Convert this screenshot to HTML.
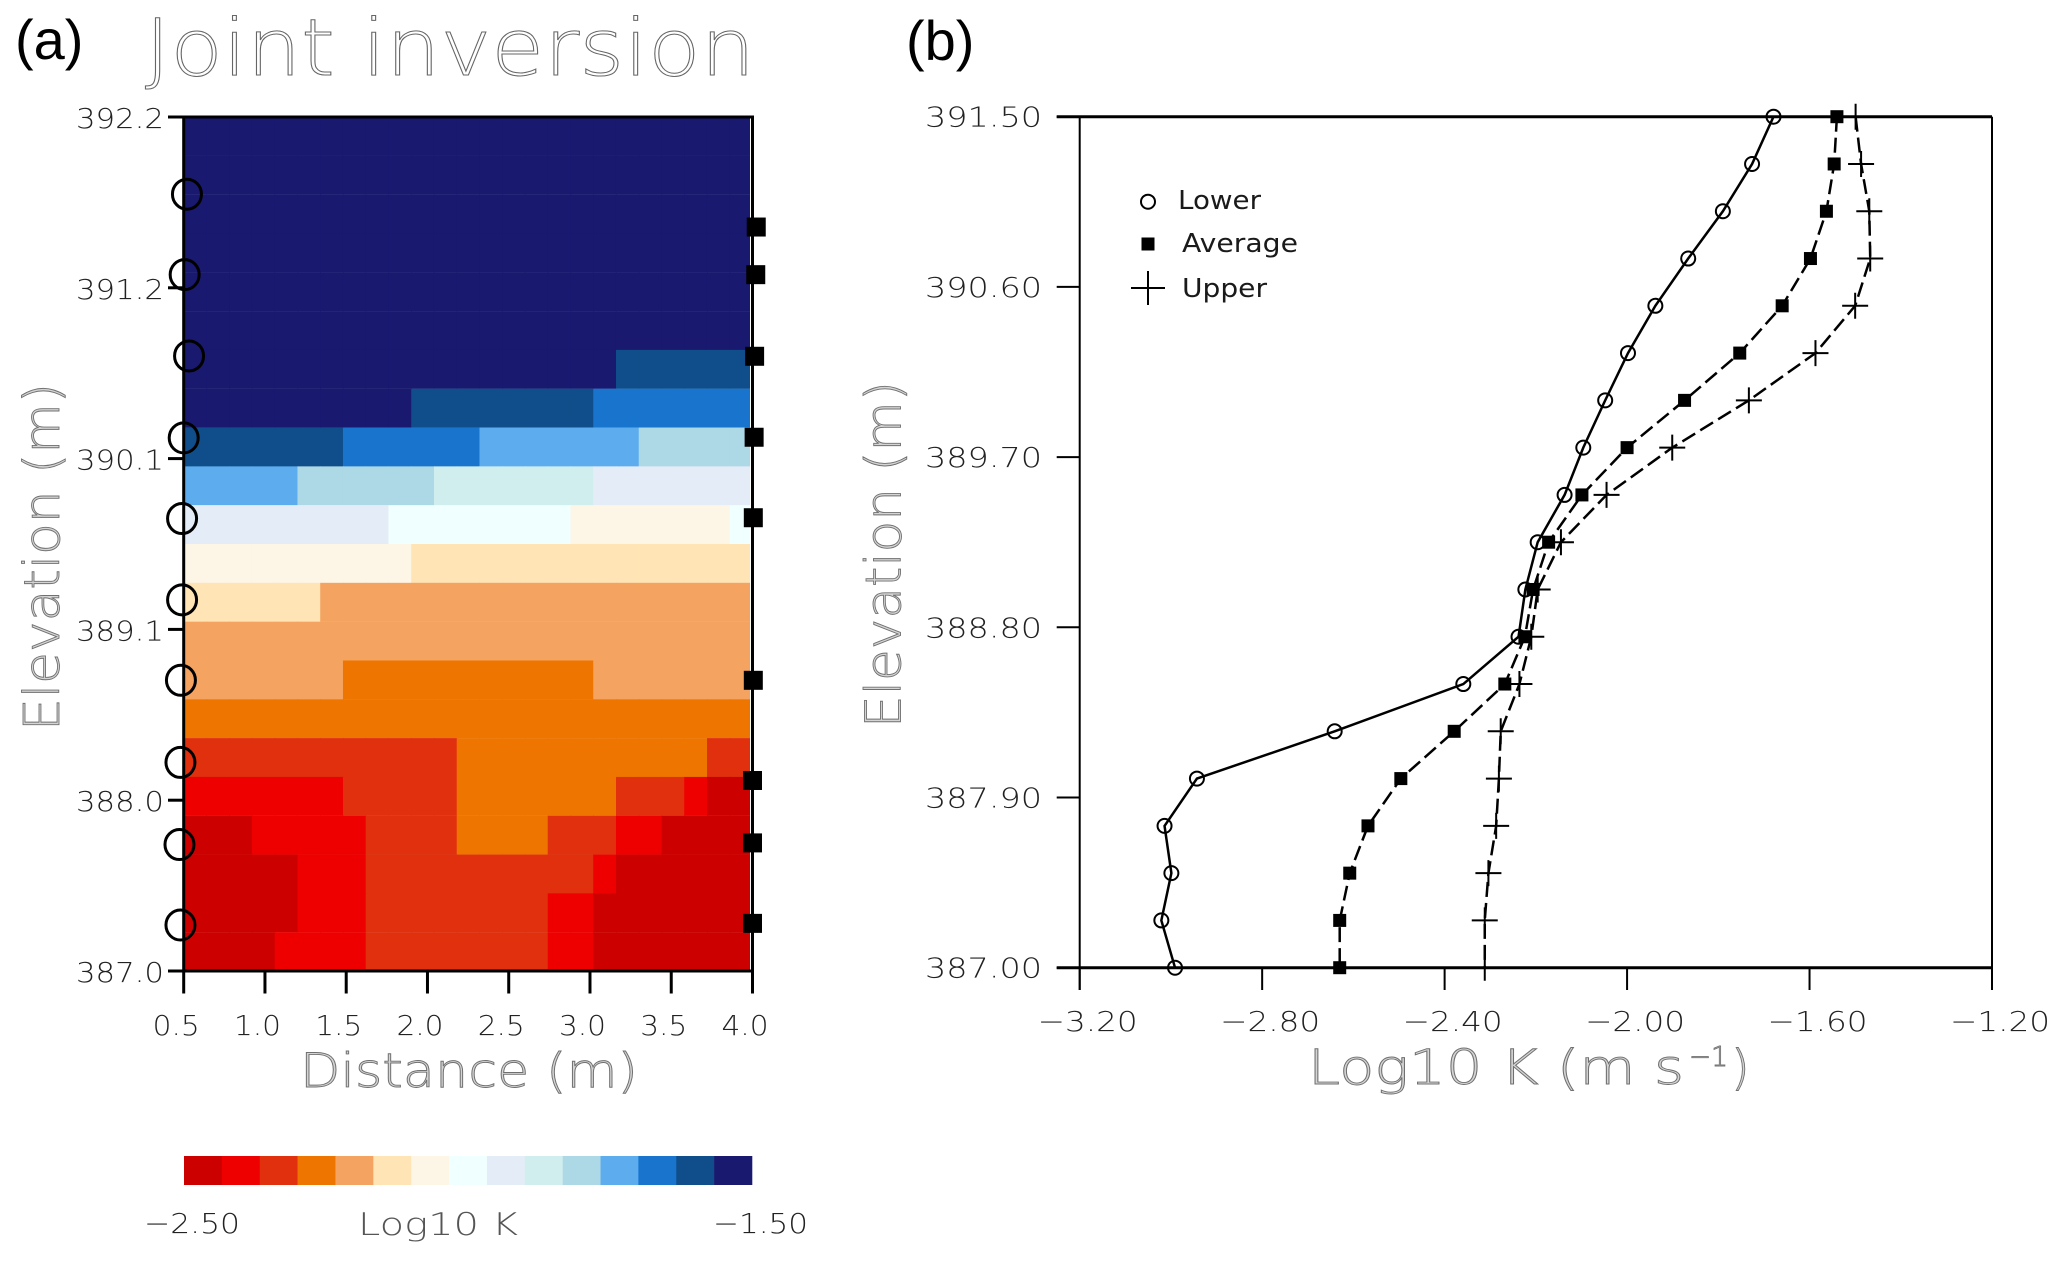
<!DOCTYPE html>
<html lang="en">
<head>
<meta charset="utf-8">
<title>Joint inversion chart</title>
<style>
html,body{margin:0;padding:0;background:#fff;width:2067px;height:1262px;overflow:hidden}
svg{display:block}
text{font-family:"Liberation Sans",sans-serif}
.tick{font-family:"DejaVu Sans","Liberation Sans",sans-serif;font-weight:200;font-size:28px;fill:#222}
.outline{font-family:"DejaVu Sans","Liberation Sans",sans-serif;font-weight:200;fill:#d4d4d4;stroke:#707070;stroke-width:.9px}
.legend{font-family:"DejaVu Sans","Liberation Sans",sans-serif;font-size:26px;fill:#1a1a1a}
.panel{font-size:56px;fill:#000}
</style>
</head>
<body>
<svg id="chart" xmlns="http://www.w3.org/2000/svg" width="2067" height="1262" viewBox="0 0 2067 1262">
  <defs>
    <clipPath id="heat-clip"><rect x="185" y="118" width="565" height="853"/></clipPath>
  </defs>
  <rect x="0" y="0" width="2067" height="1262" fill="#fff"/>

  <text class="panel" x="15" y="59">(a)</text>
  <text class="panel" x="906" y="60">(b)</text>
  <text x="145" y="75" font-size="78" fill="#fff" stroke="#666" stroke-width="1" style="font-family:'DejaVu Sans','Liberation Sans',sans-serif;font-weight:200" textLength="610" lengthAdjust="spacingAndGlyphs">Joint inversion</text>

  <g id="heatmap" clip-path="url(#heat-clip)"></g>
  <g id="axes-a"></g>
  <g id="sensors"></g>

  <text class="outline" transform="translate(59,731) rotate(-90)" x="0" y="0" font-size="49" textLength="348" lengthAdjust="spacingAndGlyphs">Elevation (m)</text>
  <text class="outline" x="300" y="1087" font-size="47" textLength="338" lengthAdjust="spacingAndGlyphs">Distance (m)</text>

  <g id="colorbar"></g>
  <text class="tick" x="144" y="1233" textLength="96" lengthAdjust="spacingAndGlyphs">−2.50</text>
  <text class="tick" x="358" y="1235" style="font-size:31px;fill:#555" textLength="160" lengthAdjust="spacingAndGlyphs">Log10 K</text>
  <text class="tick" x="713" y="1233" textLength="95" lengthAdjust="spacingAndGlyphs">−1.50</text>

  <g id="axes-b"></g>
  <g id="profiles"></g>

  <text class="outline" transform="translate(900.7,728) rotate(-90)" x="0" y="0" font-size="49" textLength="347" lengthAdjust="spacingAndGlyphs">Elevation (m)</text>
  <text class="outline" x="1308" y="1084" font-size="48" textLength="376" lengthAdjust="spacingAndGlyphs">Log10 K (m s</text>
  <text class="outline" x="1689" y="1066" font-size="28" textLength="39" lengthAdjust="spacingAndGlyphs">−1</text>
  <text class="outline" x="1731" y="1084" font-size="48">)</text>

  <g>
    <circle cx="1148" cy="201.7" r="7" fill="#fff" stroke="#000" stroke-width="2"/>
    <text class="legend" x="1178" y="209" textLength="83" lengthAdjust="spacingAndGlyphs">Lower</text>
    <rect x="1141.5" y="237.5" width="13" height="13" fill="#000"/>
    <text class="legend" x="1182" y="252" textLength="116" lengthAdjust="spacingAndGlyphs">Average</text>
    <path d="M1131 288H1165M1148 271V305" stroke="#000" stroke-width="2" fill="none"/>
    <text class="legend" x="1182" y="297" textLength="85" lengthAdjust="spacingAndGlyphs">Upper</text>
  </g>
</svg>
<script>
// ---------- Panel (a) data ----------
const levelColors = ["#cd0000","#ee0000","#e0300e","#ee7600","#f4a460","#ffe4b5","#fdf5e6","#f0ffff","#e4edf7","#d1eeee","#add8e6","#5cacee","#1874cd","#104e8b","#191970"];
const colorMin = -2.5;
const colorMax = -1.5;
const distanceStart = 0.5;
const cellDistance = 0.14;
const elevationTop = 392.2;
const cellElevation = 5.2 / 22;
const heatValues = [
[-1.53,-1.53,-1.53,-1.53,-1.53,-1.53,-1.53,-1.53,-1.53,-1.53,-1.53,-1.53,-1.53,-1.53,-1.53,-1.53,-1.53,-1.53,-1.53,-1.53,-1.53,-1.53,-1.53,-1.53,-1.53],
[-1.53,-1.53,-1.53,-1.53,-1.53,-1.53,-1.53,-1.53,-1.53,-1.53,-1.53,-1.53,-1.53,-1.53,-1.53,-1.53,-1.53,-1.53,-1.53,-1.53,-1.53,-1.53,-1.53,-1.53,-1.53],
[-1.53,-1.53,-1.53,-1.53,-1.53,-1.53,-1.53,-1.53,-1.53,-1.53,-1.53,-1.53,-1.53,-1.53,-1.53,-1.53,-1.53,-1.53,-1.53,-1.53,-1.53,-1.53,-1.53,-1.53,-1.53],
[-1.53,-1.53,-1.53,-1.53,-1.53,-1.53,-1.53,-1.53,-1.53,-1.53,-1.53,-1.53,-1.53,-1.53,-1.53,-1.53,-1.53,-1.53,-1.53,-1.53,-1.53,-1.53,-1.53,-1.53,-1.53],
[-1.53,-1.53,-1.53,-1.53,-1.53,-1.53,-1.53,-1.53,-1.53,-1.53,-1.53,-1.53,-1.53,-1.53,-1.53,-1.53,-1.53,-1.53,-1.53,-1.53,-1.53,-1.53,-1.53,-1.53,-1.53],
[-1.53,-1.53,-1.53,-1.53,-1.53,-1.53,-1.53,-1.53,-1.53,-1.53,-1.53,-1.53,-1.53,-1.53,-1.53,-1.53,-1.53,-1.53,-1.53,-1.53,-1.53,-1.53,-1.53,-1.53,-1.53],
[-1.53,-1.53,-1.53,-1.53,-1.53,-1.53,-1.53,-1.53,-1.53,-1.53,-1.53,-1.53,-1.53,-1.53,-1.53,-1.53,-1.53,-1.53,-1.53,-1.60,-1.60,-1.60,-1.60,-1.60,-1.60],
[-1.53,-1.53,-1.53,-1.53,-1.53,-1.53,-1.53,-1.53,-1.53,-1.53,-1.60,-1.60,-1.60,-1.60,-1.60,-1.60,-1.60,-1.60,-1.67,-1.67,-1.67,-1.67,-1.67,-1.67,-1.67],
[-1.60,-1.60,-1.60,-1.60,-1.60,-1.60,-1.60,-1.67,-1.67,-1.67,-1.67,-1.67,-1.67,-1.73,-1.73,-1.73,-1.73,-1.73,-1.73,-1.73,-1.80,-1.80,-1.80,-1.80,-1.80],
[-1.73,-1.73,-1.73,-1.73,-1.73,-1.80,-1.80,-1.80,-1.80,-1.80,-1.80,-1.87,-1.87,-1.87,-1.87,-1.87,-1.87,-1.87,-1.93,-1.93,-1.93,-1.93,-1.93,-1.93,-1.93],
[-1.93,-1.93,-1.93,-1.93,-1.93,-1.93,-1.93,-1.93,-1.93,-2.00,-2.00,-2.00,-2.00,-2.00,-2.00,-2.00,-2.00,-2.07,-2.07,-2.07,-2.07,-2.07,-2.07,-2.07,-2.00],
[-2.07,-2.07,-2.07,-2.07,-2.07,-2.07,-2.07,-2.07,-2.07,-2.07,-2.13,-2.13,-2.13,-2.13,-2.13,-2.13,-2.13,-2.13,-2.13,-2.13,-2.13,-2.13,-2.13,-2.13,-2.13],
[-2.13,-2.13,-2.13,-2.13,-2.13,-2.13,-2.20,-2.20,-2.20,-2.20,-2.20,-2.20,-2.20,-2.20,-2.20,-2.20,-2.20,-2.20,-2.20,-2.20,-2.20,-2.20,-2.20,-2.20,-2.20],
[-2.20,-2.20,-2.20,-2.20,-2.20,-2.20,-2.20,-2.20,-2.20,-2.20,-2.20,-2.20,-2.20,-2.20,-2.20,-2.20,-2.20,-2.20,-2.20,-2.20,-2.20,-2.20,-2.20,-2.20,-2.20],
[-2.20,-2.20,-2.20,-2.20,-2.20,-2.20,-2.20,-2.27,-2.27,-2.27,-2.27,-2.27,-2.27,-2.27,-2.27,-2.27,-2.27,-2.27,-2.20,-2.20,-2.20,-2.20,-2.20,-2.20,-2.20],
[-2.27,-2.27,-2.27,-2.27,-2.27,-2.27,-2.27,-2.27,-2.27,-2.27,-2.27,-2.27,-2.27,-2.27,-2.27,-2.27,-2.27,-2.27,-2.27,-2.27,-2.27,-2.27,-2.27,-2.27,-2.27],
[-2.33,-2.33,-2.33,-2.33,-2.33,-2.33,-2.33,-2.33,-2.33,-2.33,-2.33,-2.33,-2.27,-2.27,-2.27,-2.27,-2.27,-2.27,-2.27,-2.27,-2.27,-2.27,-2.27,-2.33,-2.33],
[-2.40,-2.40,-2.40,-2.40,-2.40,-2.40,-2.40,-2.33,-2.33,-2.33,-2.33,-2.33,-2.27,-2.27,-2.27,-2.27,-2.27,-2.27,-2.27,-2.33,-2.33,-2.33,-2.40,-2.47,-2.47],
[-2.47,-2.47,-2.47,-2.40,-2.40,-2.40,-2.40,-2.40,-2.33,-2.33,-2.33,-2.33,-2.27,-2.27,-2.27,-2.27,-2.33,-2.33,-2.33,-2.40,-2.40,-2.47,-2.47,-2.47,-2.47],
[-2.47,-2.47,-2.47,-2.47,-2.47,-2.40,-2.40,-2.40,-2.33,-2.33,-2.33,-2.33,-2.33,-2.33,-2.33,-2.33,-2.33,-2.33,-2.40,-2.47,-2.47,-2.47,-2.47,-2.47,-2.47],
[-2.47,-2.47,-2.47,-2.47,-2.47,-2.40,-2.40,-2.40,-2.33,-2.33,-2.33,-2.33,-2.33,-2.33,-2.33,-2.33,-2.40,-2.40,-2.47,-2.47,-2.47,-2.47,-2.47,-2.47,-2.47],
[-2.47,-2.47,-2.47,-2.47,-2.40,-2.40,-2.40,-2.40,-2.33,-2.33,-2.33,-2.33,-2.33,-2.33,-2.33,-2.33,-2.40,-2.40,-2.47,-2.47,-2.47,-2.47,-2.47,-2.47,-2.47]
];
const heatXTicks = [0.5,1.0,1.5,2.0,2.5,3.0,3.5,4.0];
const heatYTicks = [392.2,391.16,390.12,389.08,388.04,387.0];
const leftSensorDistance = [0.52,0.506,0.533,0.50,0.49,0.49,0.483,0.48,0.474,0.48];
const leftSensorElevation = [391.73,391.24,390.745,390.246,389.755,389.26,388.77,388.27,387.77,387.28];
const rightSensorDistance = [4.023,4.02,4.013,4.01,4.005,4.005,4.0,4.0,4.0];
const rightSensorElevation = [391.53,391.24,390.743,390.25,389.76,388.77,388.16,387.78,387.29];

// ---------- Panel (b) data ----------
const profileElevation = [391.5,391.25,391.0,390.75,390.5,390.25,390.0,389.75,389.5,389.25,389.0,388.75,388.5,388.25,388.0,387.75,387.5,387.25,387.0];
const lowerK = [-1.679,-1.726,-1.790,-1.866,-1.938,-1.998,-2.048,-2.096,-2.137,-2.196,-2.223,-2.238,-2.359,-2.641,-2.943,-3.014,-2.999,-3.021,-2.991];
const averageK = [-1.540,-1.546,-1.563,-1.598,-1.660,-1.753,-1.874,-2.000,-2.099,-2.172,-2.206,-2.224,-2.268,-2.379,-2.496,-2.568,-2.608,-2.630,-2.630];
const upperK = [-1.499,-1.487,-1.469,-1.467,-1.500,-1.587,-1.733,-1.901,-2.045,-2.145,-2.196,-2.210,-2.236,-2.277,-2.281,-2.287,-2.304,-2.312,-2.312];
const profileXTicks = [-3.2,-2.8,-2.4,-2.0,-1.6,-1.2];
const profileYTicks = [391.5,390.6,389.7,388.8,387.9,387.0];

// ---------- Scales ----------
const xA = d => 183.7 + (d - 0.5) / 3.5 * 568.8;
const yA = e => 971 - (e - 387) / 5.2 * 854;
const xB = v => 1079.7 + (v + 3.2) / 2 * 912.3;
const yB = e => 967.7 - (e - 387) / 4.5 * 851;
const levelOf = v => Math.max(0, Math.min(levelColors.length - 1, Math.floor((v - colorMin) / (colorMax - colorMin) * levelColors.length)));
const fmtMinus = s => s.replace('-', '\u2212');

const NS = 'http://www.w3.org/2000/svg';
function make(parent, tag, attrs) {
  const el = document.createElementNS(NS, tag);
  for (const k in attrs) el.setAttribute(k, attrs[k]);
  parent.appendChild(el);
  return el;
}
const gHeat = document.getElementById('heatmap');
const gAxesA = document.getElementById('axes-a');
const gSensors = document.getElementById('sensors');
const gBar = document.getElementById('colorbar');
const gAxesB = document.getElementById('axes-b');
const gProfiles = document.getElementById('profiles');

// ---------- Heatmap cells ----------
heatValues.forEach((row, r) => {
  row.forEach((v, c) => {
    const d0 = distanceStart + c * cellDistance;
    const e0 = elevationTop - r * cellElevation;
    const x0 = xA(d0), x1 = xA(d0 + cellDistance);
    const y0 = yA(e0), y1 = yA(e0 - cellElevation);
    const cell = make(gHeat, 'rect', {x: x0, y: y0, width: x1 - x0 + 0.6, height: y1 - y0 + 0.15, fill: levelColors[levelOf(v)]});
    
    
  });
});

// ---------- Heatmap axes ----------
const frameA = make(gAxesA, 'rect', {x: xA(0.5), y: yA(392.2), width: xA(4) - xA(0.5), height: yA(387) - yA(392.2), fill: 'none', stroke: '#000', 'stroke-width': 3});


heatYTicks.forEach(t => {
  const mark = make(gAxesA, 'line', {x1: 168, x2: xA(0.5), y1: yA(t), y2: yA(t), stroke: '#000', 'stroke-width': 3});
  
  
  const label = make(gAxesA, 'text', {class: 'tick', x: 76, y: yA(t) + 11, textLength: 88, lengthAdjust: 'spacingAndGlyphs'});
  
  
  label.textContent = t.toFixed(1);
});
heatXTicks.forEach(t => {
  const mark = make(gAxesA, 'line', {x1: xA(t), x2: xA(t), y1: yA(387), y2: 993.5, stroke: '#000', 'stroke-width': 3});
  
  
  const label = make(gAxesA, 'text', {class: 'tick', x: xA(t) - 31, y: 1035, textLength: 47, lengthAdjust: 'spacingAndGlyphs'});
  
  
  label.textContent = t.toFixed(1);
});

// ---------- Sensors ----------
leftSensorDistance.forEach((d, i) => {
  const c = make(gSensors, 'ellipse', {cx: xA(d), cy: yA(leftSensorElevation[i]), rx: 14.5, ry: 15, fill: 'none', stroke: '#000', 'stroke-width': 3});
  
  
});
rightSensorDistance.forEach((d, i) => {
  const s = make(gSensors, 'rect', {x: xA(d) - 9.5, y: yA(rightSensorElevation[i]) - 9.5, width: 19, height: 19, fill: '#000'});
  
  
});

// ---------- Colorbar ----------
levelColors.forEach((col, i) => {
  const w = (752 - 184) / levelColors.length;
  const swatch = make(gBar, 'rect', {x: 184 + i * w, y: 1156, width: w + 0.3, height: 29, fill: col});
  
  
});

// ---------- Profile axes ----------
const topB = make(gAxesB, 'line', {x1: 1056.7, x2: xB(-1.2), y1: yB(391.5), y2: yB(391.5), stroke: '#000', 'stroke-width': 3});


const bottomB = make(gAxesB, 'line', {x1: 1056.7, x2: xB(-1.2), y1: yB(387), y2: yB(387), stroke: '#000', 'stroke-width': 3});


const leftB = make(gAxesB, 'line', {x1: xB(-3.2), x2: xB(-3.2), y1: yB(391.5), y2: 990, stroke: '#000', 'stroke-width': 2});


const rightB = make(gAxesB, 'line', {x1: xB(-1.2), x2: xB(-1.2), y1: yB(391.5), y2: 990, stroke: '#000', 'stroke-width': 2});


profileYTicks.forEach(t => {
  const mark = make(gAxesB, 'line', {x1: 1056.7, x2: xB(-3.2), y1: yB(t), y2: yB(t), stroke: '#000', 'stroke-width': 2});
  
  
  const label = make(gAxesB, 'text', {class: 'tick', x: 925, y: yB(t) + 10, textLength: 117, lengthAdjust: 'spacingAndGlyphs'});
  
  
  label.textContent = t.toFixed(2);
});
profileXTicks.forEach(t => {
  const mark = make(gAxesB, 'line', {x1: xB(t), x2: xB(t), y1: yB(387), y2: 990, stroke: '#000', 'stroke-width': 2});
  
  
  const label = make(gAxesB, 'text', {class: 'tick', x: xB(t) - 42, y: 1031, textLength: 100, lengthAdjust: 'spacingAndGlyphs'});
  
  
  label.textContent = fmtMinus(t.toFixed(2));
});

// ---------- Profile series ----------
const pts = vals => vals.map((v, i) => xB(v) + ',' + yB(profileElevation[i])).join(' ');
const lowerLine = make(gProfiles, 'polyline', {points: pts(lowerK), fill: 'none', stroke: '#000', 'stroke-width': 2.5});


const averageLine = make(gProfiles, 'polyline', {points: pts(averageK), fill: 'none', stroke: '#000', 'stroke-width': 2.5, 'stroke-dasharray': '15 6'});


const upperLine = make(gProfiles, 'polyline', {points: pts(upperK), fill: 'none', stroke: '#000', 'stroke-width': 2.5, 'stroke-dasharray': '15 6'});



lowerK.forEach((v, i) => {
  const m = make(gProfiles, 'circle', {cx: xB(v), cy: yB(profileElevation[i]), r: 7, fill: 'none', stroke: '#000', 'stroke-width': 2});
  
  
});
averageK.forEach((v, i) => {
  const m = make(gProfiles, 'rect', {x: xB(v) - 6.5, y: yB(profileElevation[i]) - 6.5, width: 13, height: 13, fill: '#000'});
  
  
});
upperK.forEach((v, i) => {
  const x = xB(v), y = yB(profileElevation[i]);
  const m = make(gProfiles, 'path', {d: 'M' + (x - 13) + ' ' + y + 'H' + (x + 13) + 'M' + x + ' ' + (y - 13) + 'V' + (y + 13), fill: 'none', stroke: '#000', 'stroke-width': 2});
  
  
});
</script>
</body>
</html>
